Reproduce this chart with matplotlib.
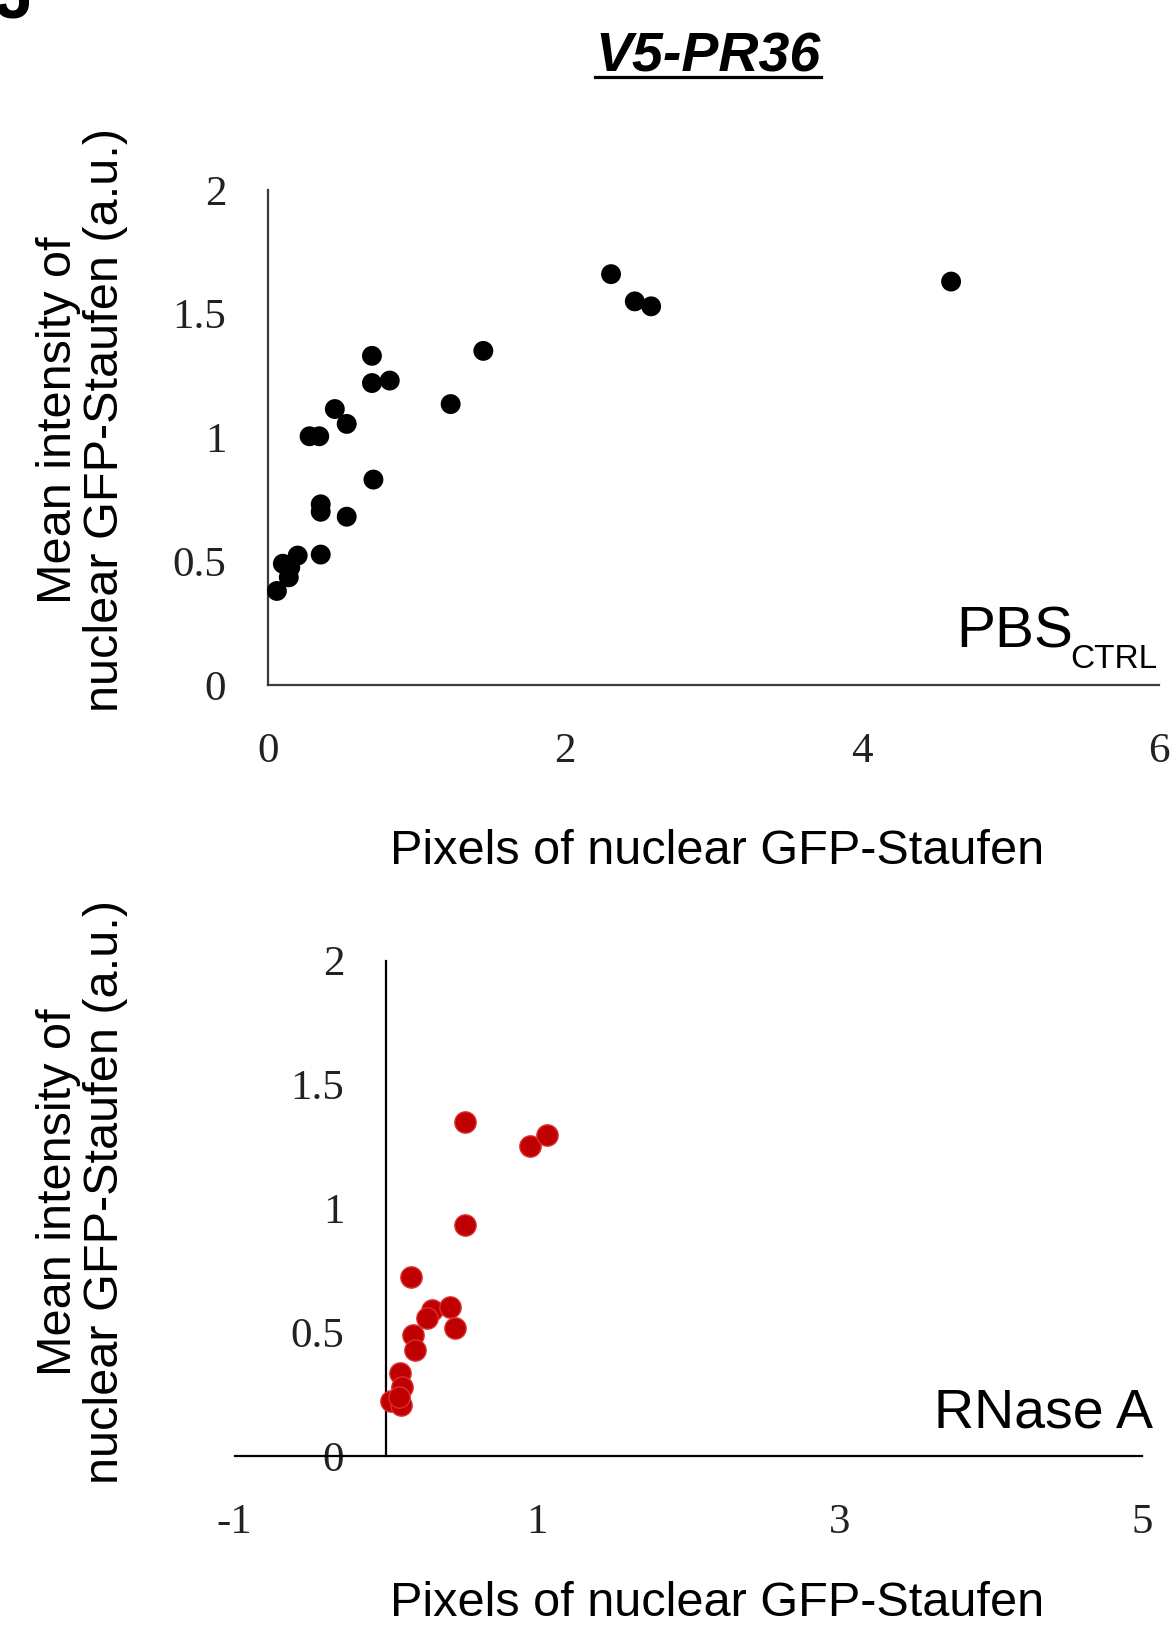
import matplotlib
matplotlib.use("Agg")
import matplotlib.pyplot as plt
from matplotlib.lines import Line2D

# ---- data ----
pbs_x = [2.31, 2.47, 2.58, 4.60, 1.45, 0.70, 0.70, 0.82, 0.45, 0.53, 0.28, 0.345,
         1.23, 0.71, 0.355, 0.355, 0.53, 0.355, 0.20, 0.10, 0.15, 0.14, 0.06]
pbs_y = [1.66, 1.55, 1.53, 1.63, 1.35, 1.33, 1.22, 1.23, 1.115, 1.055, 1.005, 1.005,
         1.135, 0.83, 0.73, 0.70, 0.68, 0.527, 0.523, 0.49, 0.475, 0.435, 0.38]

rnase_x = [0.525, 0.955, 1.066, 0.525, 0.166, 0.305, 0.27, 0.426, 0.459, 0.18,
           0.194, 0.095, 0.106, 0.035, 0.10, 0.085]
rnase_y = [1.347, 1.253, 1.296, 0.933, 0.724, 0.589, 0.556, 0.603, 0.515, 0.488,
           0.428, 0.336, 0.28, 0.223, 0.206, 0.24]

top_xticks = [0, 2, 4, 6]
bot_xticks = [-1, 1, 3, 5]
yticks = [0, 0.5, 1, 1.5, 2]
ytick_labels = ["0", "0.5", "1", "1.5", "2"]

title = "V5-PR36"
ylab = "Mean intensity of\nnuclear GFP-Staufen (a.u.)"
xlab = "Pixels of nuclear GFP-Staufen"

W, H = 1175, 1628
fig = plt.figure(figsize=(W / 100, H / 100), dpi=100)

sans = "Liberation Sans"
serif = "Liberation Serif"


def fx(px):
    return px / W


def fy(py):
    return 1 - py / H


def style_axes(ax, xlim, xticks, spine_col):
    ax.set_xlim(*xlim)
    ax.set_ylim(0, 2)
    for s in ["top", "right"]:
        ax.spines[s].set_visible(False)
    for s in ["left", "bottom"]:
        ax.spines[s].set_color(spine_col)
        ax.spines[s].set_linewidth(1.6)
    ax.spines["left"].set_position(("data", 0))
    ax.set_xticks(xticks)
    ax.set_xticklabels([str(t) for t in xticks])
    ax.set_yticks(yticks)
    ax.set_yticklabels(ytick_labels)
    ax.tick_params(axis="both", length=0, labelsize=31)
    ax.tick_params(axis="x", pad=34)
    ax.tick_params(axis="y", pad=30)
    for lab in ax.get_xticklabels() + ax.get_yticklabels():
        lab.set_fontfamily(serif)
        lab.set_color("#222222")
    ax.patch.set_alpha(0)


# top panel: PBS control
ax1 = fig.add_axes([fx(268), fy(685), fx(1159 - 268), (685 - 190) / H])
ax1.scatter(pbs_x, pbs_y, s=205, color="black", edgecolor="none", zorder=3, clip_on=False)
style_axes(ax1, (0, 6), top_xticks, "#3a3a3a")

# bottom panel: RNase A
ax2 = fig.add_axes([fx(234.7), fy(1456), fx(1142.3 - 234.7), (1456 - 960.5) / H])
ax2.scatter(rnase_x, rnase_y, s=235, color="#c00000", edgecolor="#d83030",
            linewidth=1.0, zorder=3, clip_on=False)
style_axes(ax2, (-1, 5), bot_xticks, "black")

# axis titles
for yc in (420, 1192):
    fig.text(fx(82), fy(yc), ylab, rotation=90, ha="center", va="center",
             fontsize=35, family=sans, multialignment="center", linespacing=1.05)
for yc in (851, 1604):
    fig.text(fx(717), fy(yc), xlab, ha="center", va="center", fontsize=35, family=sans)

# condition labels
ctrl = ax1.text(fx(1157), fy(668), "CTRL", transform=fig.transFigure, ha="right",
                va="baseline", fontsize=24, family=sans)
ax2.text(fx(1153), fy(1428), "RNase A", transform=fig.transFigure, ha="right",
         va="baseline", fontsize=40, family=sans)

# panel title, bold italic and underlined
t = fig.text(fx(708), fy(71), title, ha="center", va="baseline", fontsize=40,
             family=sans, fontweight="bold", fontstyle="italic")

# cropped panel letter at the top-left corner
fig.text(fx(34), fy(18), "J", ha="right", va="baseline", fontsize=50,
         family=sans, fontweight="bold")

fig.canvas.draw()
r = fig.canvas.get_renderer()
inv = fig.transFigure.inverted()

bb = ctrl.get_window_extent(r)
x0, _ = inv.transform((bb.x0, bb.y0))
fig.text(x0 + fx(3), fy(647), "PBS", ha="right", va="baseline", fontsize=42, family=sans)

bb = t.get_window_extent(r)
(ux0, _), (ux1, _) = inv.transform([(bb.x0, bb.y0), (bb.x1, bb.y0)])
fig.add_artist(Line2D([ux0, ux1], [fy(76.5), fy(76.5)], transform=fig.transFigure,
                      color="black", lw=2.3))

fig.savefig("out.png", dpi=100)
